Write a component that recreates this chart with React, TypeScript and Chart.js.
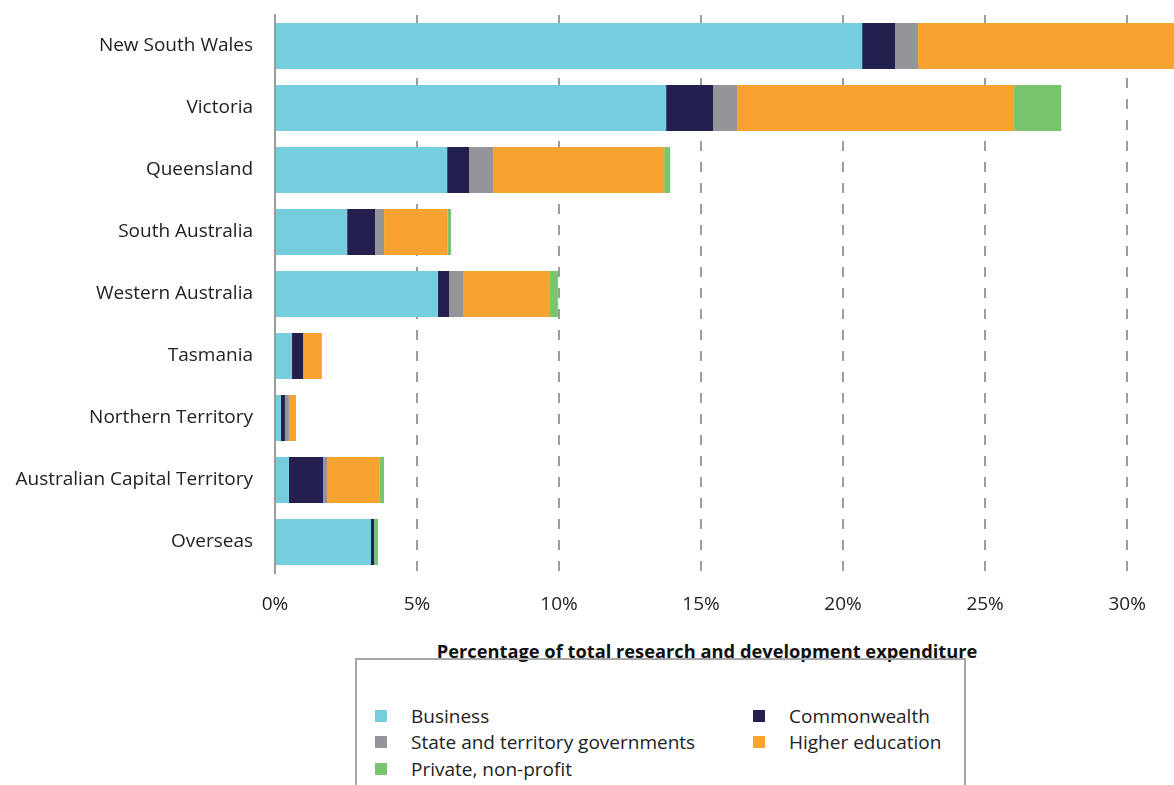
import React, { useEffect, useRef } from "react";
import { Chart, registerables } from "chart.js";

Chart.register(...registerables);

const categories = [
  "New South Wales",
  "Victoria",
  "Queensland",
  "South Australia",
  "Western Australia",
  "Tasmania",
  "Northern Territory",
  "Australian Capital Territory",
  "Overseas",
];

const business = [20.67, 13.77, 6.06, 2.54, 5.74, 0.6, 0.21, 0.49, 3.38];
const commonwealth = [1.16, 1.65, 0.77, 0.98, 0.39, 0.39, 0.14, 1.2, 0.11];
const stateGov = [0.81, 0.85, 0.85, 0.32, 0.49, 0, 0.14, 0.14, 0];
const higherEducation = [10.6, 9.75, 6.02, 2.23, 3.06, 0.66, 0.25, 1.86, 0];
const privateNonProfit = [0.3, 1.66, 0.21, 0.13, 0.28, 0, 0, 0.15, 0.14];

const xTicks = [0, 5, 10, 15, 20, 25, 30];
const xMax = 31.65;

const colors = {
  business: "#75CDDD",
  commonwealth: "#231F4F",
  state: "#939598",
  higher: "#F8A231",
  priv: "#7AC470",
};

const FONT = "'Open Sans', 'Noto Sans', sans-serif";

export default function App() {
  const ref = useRef<HTMLCanvasElement>(null);

  useEffect(() => {
    if (!ref.current) return;
    const chart = new Chart(ref.current, {
      type: "bar",
      data: {
        labels: categories,
        datasets: [
          { label: "Business", data: business, backgroundColor: colors.business },
          { label: "Commonwealth", data: commonwealth, backgroundColor: colors.commonwealth },
          { label: "State and territory governments", data: stateGov, backgroundColor: colors.state },
          { label: "Higher education", data: higherEducation, backgroundColor: colors.higher },
          { label: "Private, non-profit", data: privateNonProfit, backgroundColor: colors.priv },
        ],
      },
      options: {
        indexAxis: "y",
        animation: false,
        responsive: false,
        maintainAspectRatio: false,
        datasets: {
          bar: {
            categoryPercentage: 1,
            barPercentage: 0.742,
            borderWidth: 0,
          },
        },
        layout: { padding: { top: 15, right: 0, left: 0, bottom: 0 } },
        plugins: {
          legend: { display: false },
          tooltip: { enabled: false },
        },
        scales: {
          x: {
            type: "linear",
            stacked: true,
            min: 0,
            max: xMax,
            afterBuildTicks: (scale: any) => {
              scale.ticks = xTicks.map((v) => ({ value: v }));
            },
            afterFit: (scale: any) => {
              scale.height = 47;
              scale.paddingLeft = 0;
              scale.paddingRight = 0;
            },
            ticks: {
              padding: 20,
              color: "#222",
              font: { family: FONT, size: 19 },
              callback: (v: any) => v + "%",
            },
            grid: {
              drawTicks: false,
              lineWidth: 2,
              color: (ctx: any) =>
                ctx.tick && ctx.tick.value === 0 ? "rgba(0,0,0,0)" : "#9c9c9c",
            },
            border: { display: false, dash: [10, 11] },
          },
          y: {
            stacked: true,
            afterFit: (scale: any) => {
              scale.width = 275;
              scale.paddingTop = 0;
              scale.paddingBottom = 0;
            },
            ticks: {
              padding: 22,
              color: "#222",
              font: { family: FONT, size: 19 },
            },
            grid: { display: false, drawTicks: false },
            border: { display: true, color: "#9c9c9c", width: 2 },
          },
        },
      },
    });
    return () => chart.destroy();
  }, []);

  return (
    <div
      style={{
        position: "fixed",
        left: 0,
        top: 0,
        width: 1174,
        height: 785,
        background: "#fff",
        overflow: "hidden",
        fontFamily: FONT,
      }}
    >
      <canvas ref={ref} width={1174} height={620} style={{ display: "block" }} />
      <div
        style={{
          position: "absolute",
          top: 638,
          left: 357,
          width: 700,
          textAlign: "center",
          fontWeight: 700,
          fontSize: 18.3,
          color: "#111",
          whiteSpace: "nowrap",
        }}
      >
        Percentage of total research and development expenditure
      </div>
      <div
        style={{
          position: "absolute",
          left: 355,
          top: 658,
          width: 607,
          height: 160,
          border: "2px solid #a7a7a7",
          boxSizing: "content-box",
        }}
      >
        {[
          { label: "Business", color: colors.business, x: 18, y: 56 },
          { label: "Commonwealth", color: colors.commonwealth, x: 396, y: 56 },
          { label: "State and territory governments", color: colors.state, x: 18, y: 82 },
          { label: "Higher education", color: colors.higher, x: 396, y: 82 },
          { label: "Private, non-profit", color: colors.priv, x: 18, y: 109 },
        ].map((it) => (
          <div key={it.label}>
            <div
              style={{
                position: "absolute",
                left: it.x,
                top: it.y - 6,
                width: 12,
                height: 12,
                background: it.color,
              }}
            />
            <div
              style={{
                position: "absolute",
                left: it.x + 36,
                top: it.y - 13,
                fontSize: 19,
                lineHeight: "26px",
                color: "#222",
                whiteSpace: "nowrap",
              }}
            >
              {it.label}
            </div>
          </div>
        ))}
      </div>
    </div>
  );
}
